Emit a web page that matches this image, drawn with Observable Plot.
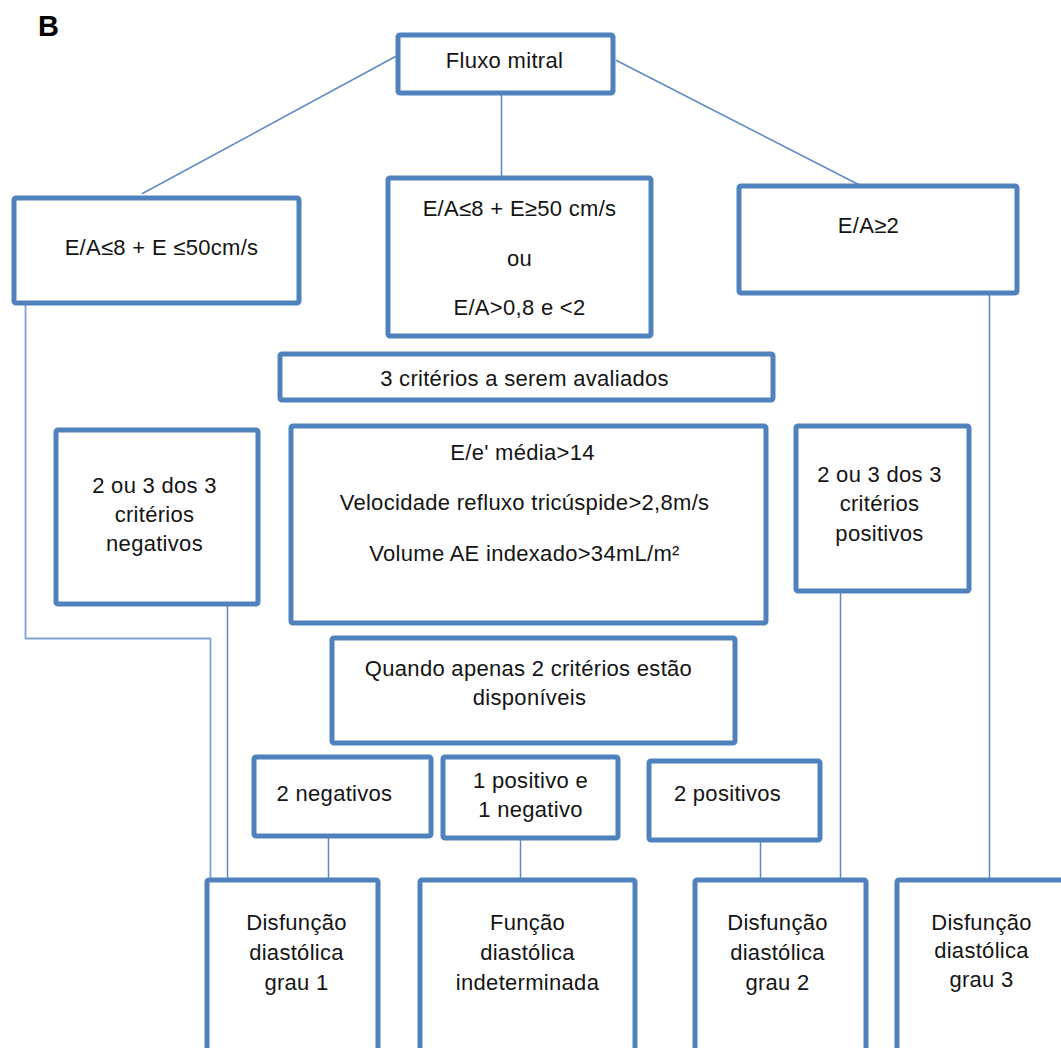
<!DOCTYPE html>
<html>
<head>
<meta charset="utf-8">
<script src="https://cdn.jsdelivr.net/npm/d3@7"></script>
<script src="https://cdn.jsdelivr.net/npm/@observablehq/plot@0.6"></script>
<style>
  html, body { margin: 0; padding: 0; background: #fff; }
  #chart svg { display: block; }
  #chart text { letter-spacing: 0.3px; }
</style>
</head>
<body>
<div id="chart"></div>
<script>
// Node labels (one entry per text line) and the panel letter
const panelLetter = "B";
const nodeIds = ["fluxo","low","mid","high","crit3","criteria","neg3","pos3","only2","neg2","mixed","pos2","g1","indet","g2","g3"];
const nodeLines = [
  ["Fluxo mitral"],
  ["E/A≤8 + E ≤50cm/s"],
  ["E/A≤8 + E≥50 cm/s", "ou", "E/A>0,8 e <2"],
  ["E/A≥2"],
  ["3 critérios a serem avaliados"],
  ["E/e' média>14", "Velocidade refluxo tricúspide>2,8m/s", "Volume AE indexado>34mL/m²"],
  ["2 ou 3 dos 3", "critérios", "negativos"],
  ["2 ou 3 dos 3", "critérios", "positivos"],
  ["Quando apenas 2 critérios estão", "disponíveis"],
  ["2 negativos"],
  ["1 positivo e", "1 negativo"],
  ["2 positivos"],
  ["Disfunção", "diastólica", "grau 1"],
  ["Função", "diastólica", "indeterminada"],
  ["Disfunção", "diastólica", "grau 2"],
  ["Disfunção", "diastólica", "grau 3"]
];

// Diagram layout (box extents, in diagram units)
const boxX1 = [398, 14, 388, 739, 280, 291, 56, 796, 332, 254, 443, 649, 207, 420, 695, 897];
const boxX2 = [613, 299, 651, 1017, 773, 766, 258, 969, 735, 431, 618, 820, 378, 635, 866, 1075];
const boxY1 = [35, 198, 178, 186, 354, 426, 430, 426, 638, 757, 757, 761, 880, 880, 880, 880];
const boxY2 = [93, 303, 336, 293, 400, 623, 604, 591, 743, 836, 838, 840, 1070, 1070, 1070, 1070];
// text anchor per node line
const textX = [[504], [161], [519, 519, 519], [868], [524], [522, 524, 524], [154, 154, 154], [879, 879, 879],
  [528, 529], [334], [530, 530], [727], [296, 296, 296], [527, 527, 527], [777, 777, 777], [981, 981, 981]];
const textY = [[60], [247], [208, 258, 307], [225], [378], [452, 502, 553], [485, 514, 543], [474, 503, 533],
  [668, 697], [793], [780, 809], [793], [922, 952, 982], [922, 952, 982], [922, 952, 982], [922, 950, 979]];

// Connectors: polylines between boxes
const connectorPaths = [
  {id: "fluxo-low", pts: [[395, 56], [142, 193]]},
  {id: "fluxo-mid", pts: [[501, 94], [501, 178]]},
  {id: "fluxo-high", pts: [[616, 60], [858, 184]]},
  {id: "low-g1", pts: [[25, 303], [25, 638], [210, 638], [210, 880]], light: true},
  {id: "neg3-g1", pts: [[227, 604], [227, 880]]},
  {id: "neg2-g1", pts: [[328, 836], [328, 880]]},
  {id: "mixed-indet", pts: [[520, 838], [520, 880]]},
  {id: "pos2-g2", pts: [[760, 840], [760, 880]]},
  {id: "pos3-g2", pts: [[840, 591], [840, 880]]},
  {id: "high-g3", pts: [[989, 293], [989, 880]]}
];

const boxes = nodeIds.map((id, i) => ({id, x1: boxX1[i], x2: boxX2[i], y1: boxY1[i], y2: boxY2[i]}));
const texts = nodeLines.flatMap((lines, i) => lines.map((t, j) => ({text: t, x: textX[i][j], y: textY[i][j]})));
const segPoints = connectorPaths.flatMap(p => p.pts.map(([x, y]) => ({id: p.id, x, y, light: !!p.light})));

const font = "'Liberation Sans', Arial, Helvetica, sans-serif";
const W = 1061, H = 1048;

const chart = Plot.plot({
  width: W,
  height: H,
  margin: 0,
  x: {domain: [0, W], range: [0, W], axis: null},
  y: {domain: [0, H], range: [0, H], axis: null},
  style: {fontFamily: font, background: "#fff"},
  marks: [
    Plot.line(segPoints.filter(d => !d.light), {x: "x", y: "y", z: "id", stroke: "#5b8ac6", strokeWidth: 1.5}),
    Plot.line(segPoints.filter(d => d.light), {x: "x", y: "y", z: "id", stroke: "#7fa3d4", strokeWidth: 1.8}),
    Plot.rect(boxes, {x1: "x1", x2: "x2", y1: "y1", y2: "y2", fill: "#fff", stroke: "#4f81bd", strokeWidth: 5, rx: 2, clip: true}),
    Plot.text(texts, {x: "x", y: "y", text: "text", fontSize: 22, fill: "#141414", lineAnchor: "middle", textAnchor: "middle"}),
    Plot.text([panelLetter], {x: () => 48, y: () => 26, text: d => d, fontSize: 29, fontWeight: "bold", fill: "#000", lineAnchor: "middle"})
  ]
});
document.getElementById("chart").appendChild(chart);
</script>
</body>
</html>
